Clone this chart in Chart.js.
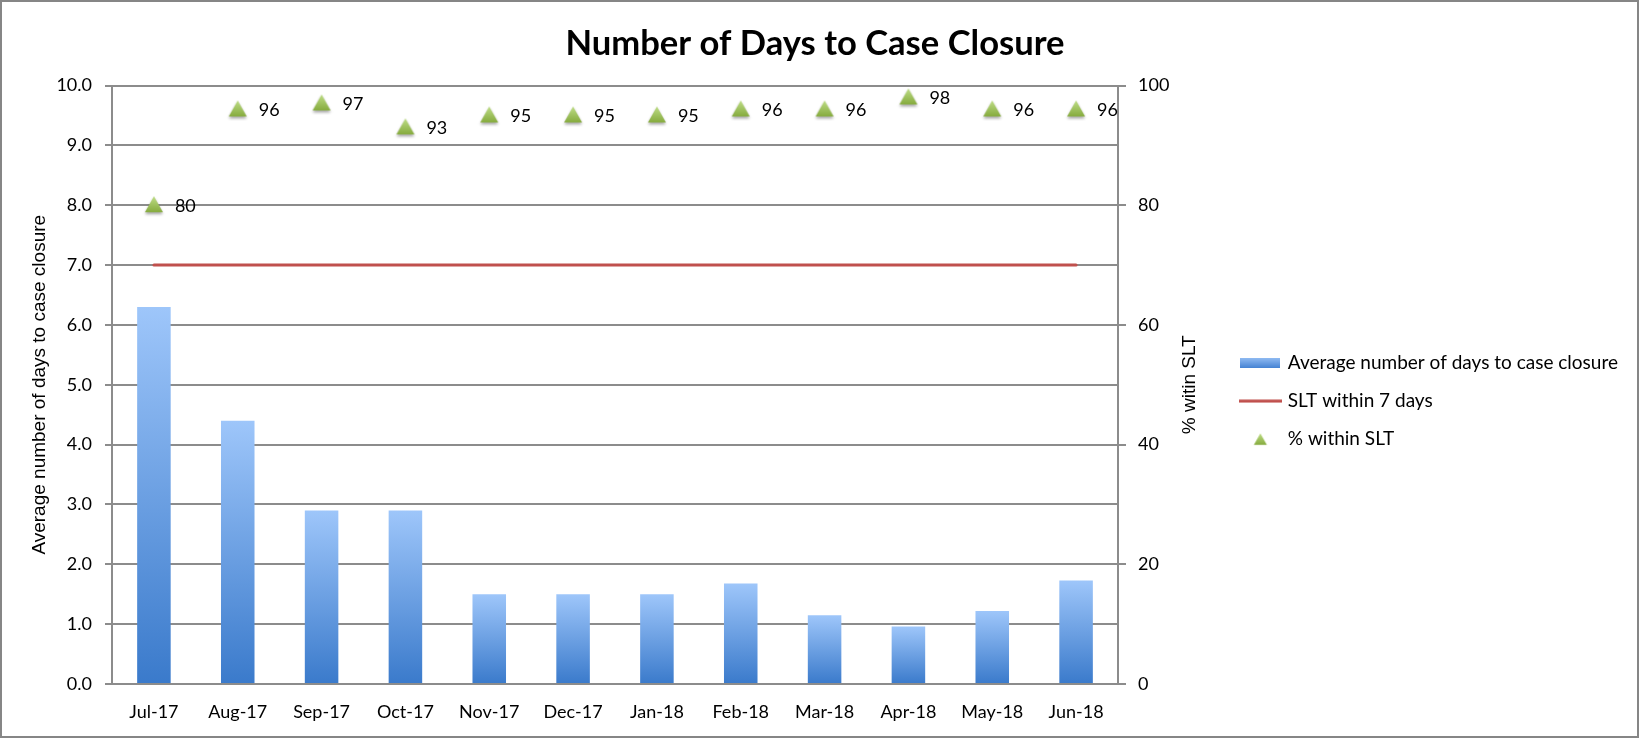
<!DOCTYPE html>
<html>
<head>
<meta charset="utf-8">
<script src="https://cdn.jsdelivr.net/npm/chart.js@4.4.1/dist/chart.umd.min.js"></script>
<style>
  html, body { margin: 0; padding: 0; background: #fff; }
  #wrap { width: 1639px; height: 738px; box-sizing: border-box; border: 2px solid #868686; background: #fff; }
</style>
</head>
<body>
<div id="wrap"><canvas id="myChart"></canvas></div>
<script>
const MONTHS = ["Jul-17","Aug-17","Sep-17","Oct-17","Nov-17","Dec-17","Jan-18","Feb-18","Mar-18","Apr-18","May-18","Jun-18"];
const AVG_DAYS = [6.3, 4.4, 2.9, 2.9, 1.5, 1.5, 1.5, 1.68, 1.15, 0.96, 1.22, 1.73];
const SLT_DAYS = [7, 7, 7, 7, 7, 7, 7, 7, 7, 7, 7, 7];
const PCT_WITHIN = [80, 96, 97, 93, 95, 95, 95, 96, 96, 98, 96, 96];
const SERIES_NAMES = ["Average number of days to case closure", "SLT within 7 days", "% within SLT"];

const MY_CHART = document.querySelector("#myChart");
const GRID = "#8c8c8c";
const FONT = "Lato, 'Open Sans', sans-serif";
const AXIS_FONT = "'Liberation Sans', Arial, sans-serif";

// canvas is 1635 x 734 inside the border
const AREA_LEFT = 110, AREA_RIGHT = 1116, AREA_BOTTOM = 682, CANVAS_W = 1635, CANVAS_H = 734;
const PAD_RIGHT = 9, LEG_PAD = 19, LEG_BOX = 36, LEG_FONT = 19, LEG_EXTRA = 10;

// marker images
function triangle(w, h, size, shadow) {
  const c = document.createElement("canvas");
  c.width = w; c.height = h;
  const x = c.getContext("2d");
  const cx = w / 2, top = (h - size * 0.88) / 2 - (shadow ? 1 : 0), bot = top + size * 0.88;
  const g = x.createLinearGradient(0, top, 0, bot);
  g.addColorStop(0, "#bedd86");
  g.addColorStop(1, "#86ab3e");
  if (shadow) {
    x.shadowColor = "rgba(0,0,0,0.35)";
    x.shadowBlur = 3;
    x.shadowOffsetY = 2;
  }
  x.beginPath();
  x.moveTo(cx, top);
  x.lineTo(cx + size / 2, bot);
  x.lineTo(cx - size / 2, bot);
  x.closePath();
  x.fillStyle = g;
  x.fill();
  return c;
}
const TRI = triangle(24, 24, 18, true);

const barIcon = document.createElement("canvas");
barIcon.width = 40; barIcon.height = 10;
(function () {
  const x = barIcon.getContext("2d");
  const g = x.createLinearGradient(0, 0, 0, 10);
  g.addColorStop(0, "#8fbaf2");
  g.addColorStop(1, "#4482d3");
  x.fillStyle = g;
  x.fillRect(0, 0, 40, 10);
})();
const lineIcon = document.createElement("canvas");
lineIcon.width = 43; lineIcon.height = 4;
(function () {
  const x = lineIcon.getContext("2d");
  x.fillStyle = "#c0504d";
  x.fillRect(0, 0.5, 43, 3);
})();
const LEGEND_ICONS = [barIcon, lineIcon, triangle(40, 16, 13, false)];

// measure legend width so the plot area ends where the original does
const mctx = document.createElement("canvas").getContext("2d");
mctx.font = LEG_FONT + "px " + FONT;
const LEG_TEXT_W = Math.max(...SERIES_NAMES.map(t => mctx.measureText(t).width));
const LEG_W = LEG_PAD + LEG_BOX + LEG_FONT / 2 + LEG_TEXT_W + LEG_EXTRA;

function barGradient(ctx) {
  const chart = ctx.chart;
  if (ctx.type !== "data" || !chart.chartArea) return "#5b93dd";
  const y = chart.scales.y;
  const top = y.getPixelForValue(ctx.raw);
  const bot = y.getPixelForValue(0);
  const g = chart.ctx.createLinearGradient(0, top, 0, bot);
  g.addColorStop(0, "#9ec6fa");
  g.addColorStop(1, "#3a7acb");
  return g;
}

const pointLabels = {
  id: "pointLabels",
  afterDatasetsDraw(chart) {
    const meta = chart.getDatasetMeta(2);
    const c = chart.ctx;
    c.save();
    c.font = "18px " + FONT;
    c.fillStyle = "#000";
    c.textAlign = "left";
    c.textBaseline = "middle";
    meta.data.forEach((pt, i) => {
      c.fillText(String(PCT_WITHIN[i]), pt.x + 21, pt.y + 1);
    });
    c.restore();
  }
};

// right axis title reads bottom-to-top like the left one
const rightTitle = {
  id: "rightTitle",
  afterDraw(chart) {
    const a = chart.chartArea;
    const c = chart.ctx;
    c.save();
    c.translate(1188, (a.top + a.bottom) / 2);
    c.rotate(-Math.PI / 2);
    c.font = "19px " + AXIS_FONT;
    c.fillStyle = "#000";
    c.textAlign = "center";
    c.textBaseline = "middle";
    c.fillText("% witin SLT", 0, 0);
    c.restore();
  }
};

const data = {
  labels: MONTHS,
  datasets: [{
    type: "bar",
    label: SERIES_NAMES[0],
    data: AVG_DAYS,
    backgroundColor: barGradient,
    barPercentage: 0.4,
    categoryPercentage: 1,
    yAxisID: "y",
    order: 3
  }, {
    type: "line",
    label: SERIES_NAMES[1],
    data: SLT_DAYS,
    borderColor: "#c0504d",
    borderWidth: 3,
    borderCapStyle: "round",
    pointRadius: 0,
    yAxisID: "y",
    order: 2
  }, {
    type: "line",
    label: SERIES_NAMES[2],
    data: PCT_WITHIN,
    showLine: false,
    pointStyle: TRI,
    pointRadius: 9,
    yAxisID: "y1",
    order: 1
  }]
};

const CONFIG = {
  type: "bar",
  data: data,
  plugins: [pointLabels, rightTitle],
  options: {
    responsive: true,
    maintainAspectRatio: false,
    animation: false,
    layout: { padding: { left: 0, right: PAD_RIGHT, top: 0, bottom: 0 } },
    plugins: {
      tooltip: { enabled: false },
      title: {
        display: true,
        text: "Number of Days to Case Closure",
        color: "#000",
        font: { family: FONT, size: 34.6, weight: "bold" },
        padding: { top: 21, bottom: 21 }
      },
      legend: {
        position: "right",
        maxWidth: 600,
        title: { display: true, text: "", font: { size: 1 }, padding: { top: 32, bottom: 31 } },
        labels: {
          usePointStyle: true,
          pointStyleWidth: LEG_BOX,
          padding: LEG_PAD,
          color: "#000",
          font: { family: FONT, size: LEG_FONT },
          generateLabels: chart => chart.data.datasets.map((ds, i) => ({
            text: ds.label,
            pointStyle: LEGEND_ICONS[i],
            fillStyle: "transparent",
            strokeStyle: "transparent",
            lineWidth: 0,
            hidden: false,
            datasetIndex: i,
            fontColor: "#000"
          }))
        }
      }
    },
    scales: {
      x: {
        grid: { display: false, drawTicks: false },
        border: { color: GRID, width: 2 },
        ticks: { color: "#000", font: { family: FONT, size: 18 }, padding: 17, maxRotation: 0 },
        afterFit: s => { s.height = CANVAS_H - AREA_BOTTOM; }
      },
      y: {
        position: "left",
        min: 0,
        max: 10,
        ticks: {
          stepSize: 1,
          color: "#000",
          font: { family: FONT, size: 18 },
          padding: 13,
          callback: v => v.toFixed(1)
        },
        grid: { color: GRID, lineWidth: 2, tickLength: 7 },
        border: { color: GRID, width: 2 },
        title: {
          display: true,
          text: "Average number of days to case closure",
          color: "#000",
          font: { family: AXIS_FONT, size: 19 },
          padding: { top: 26, bottom: 0 }
        },
        afterFit: s => { s.width = AREA_LEFT; }
      },
      y1: {
        position: "right",
        min: 0,
        max: 100,
        ticks: { stepSize: 20, color: "#000", font: { family: FONT, size: 18 }, padding: 12 },
        grid: { drawOnChartArea: false, color: GRID, lineWidth: 2, tickLength: 8 },
        border: { color: GRID, width: 2 },
        afterFit: s => { s.width = CANVAS_W - PAD_RIGHT - LEG_W - AREA_RIGHT; }
      }
    }
  }
};

new Chart(MY_CHART, CONFIG);
</script>
</body>
</html>
